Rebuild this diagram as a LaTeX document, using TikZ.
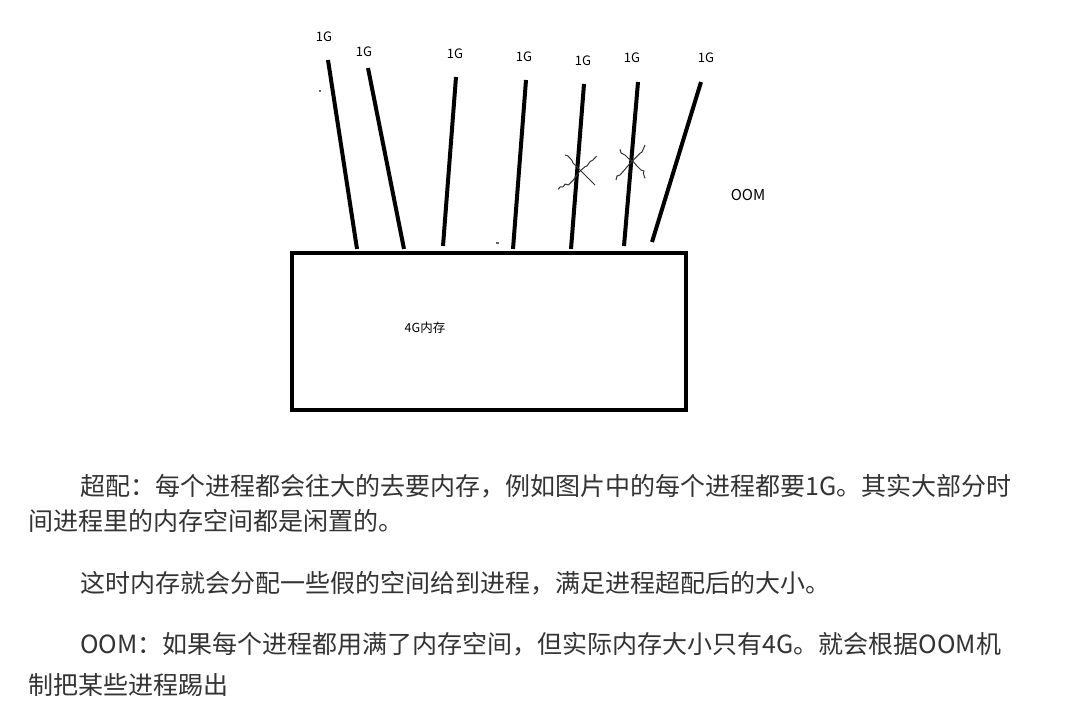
\documentclass[tikz,border=0pt]{standalone}
\usepackage{fontspec}
\setmainfont{Noto Sans CJK SC}
\definecolor{bodytext}{HTML}{333333}
\begin{document}
\begin{tikzpicture}[x=1pt,y=-1pt,
		leg/.style={line width=4pt},
		gsize/.style={font=\fontsize{13}{15}\selectfont,inner sep=0pt},
		scratch/.style={line width=1pt,color=black!80,line join=round},
		para/.style={anchor=base west,inner sep=0pt,text=bodytext,font=\fontsize{25}{30}\selectfont}]
	\useasboundingbox (0,0) rectangle (1070,713);
	\node[draw,line width=4pt,outer sep=0pt,inner sep=0pt,minimum width=394pt,minimum height=157pt] (mem) at (489,331.5) {};
	\node[font=\fontsize{12.5}{14}\selectfont,inner sep=0pt] (memlabel) at (425,328) {4G内存};
	\foreach \i/\bx/\by/\tx/\ty in {1/357/249/328/60, 2/404/249/368/68, 3/443/246/456/77, 4/513/249/526/80, 5/571/249/584/84, 6/624/246/638/82, 7/652/242/701/82}{
		\coordinate (b\i) at (\bx,\by);
		\coordinate (t\i) at (\tx,\ty);
		\draw[leg] (b\i) -- (t\i);
	}
	\foreach \i/\lx/\ly in {1/324/37, 2/364/52, 3/455/54, 4/524/57, 5/583/61, 6/632/58, 7/706/58}
		\node[gsize] (g\i) at (\lx,\ly) {1G};
	\draw[scratch] (565,155) -- (568,156) -- (571.7,160) -- (573,163) -- (575,165) -- (579.3,169.3) -- (585,175) -- (590,180) -- (595,185);
	\draw[scratch] (558.3,189.3) -- (560,187) -- (563.3,186.7) -- (565,184) -- (568.3,185) -- (573.3,180) -- (579.3,171.7) -- (585,166.7) -- (587,166) -- (590,161.7) -- (593,160) -- (596.7,156);
	\draw[scratch] (620,149.3) -- (621,153) -- (625,155) -- (628.3,158.3) -- (633.3,161.7) -- (637,166) -- (641,170) -- (644,171) -- (643.3,173.3) -- (645,178.3);
	\draw[scratch] (616,180) -- (617,176) -- (620,175) -- (625,169.3) -- (630,163.3) -- (635,158.3) -- (640,153.3) -- (642,152) -- (645,145);
	\fill[black!60] (319,90) rectangle (321,91.5);
	\fill[black!60] (496,242) rectangle (499,243.5);
	\node[font=\fontsize{15}{17}\selectfont,inner sep=0pt] (oom) at (748,195) {OOM};
	\node[para] (p1a) at (80,495) {超配：每个进程都会往大的去要内存，例如图片中的每个进程都要1G。其实大部分时};
	\node[para] (p1b) at (28,530) {间进程里的内存空间都是闲置的。};
	\node[para] (p2) at (80,592) {这时内存就会分配一些假的空间给到进程，满足进程超配后的大小。};
	\node[para] (p3a) at (80,653) {OOM：如果每个进程都用满了内存空间，但实际内存大小只有4G。就会根据OOM机};
	\node[para] (p3b) at (28,694) {制把某些进程踢出};
\end{tikzpicture}
\end{document}
